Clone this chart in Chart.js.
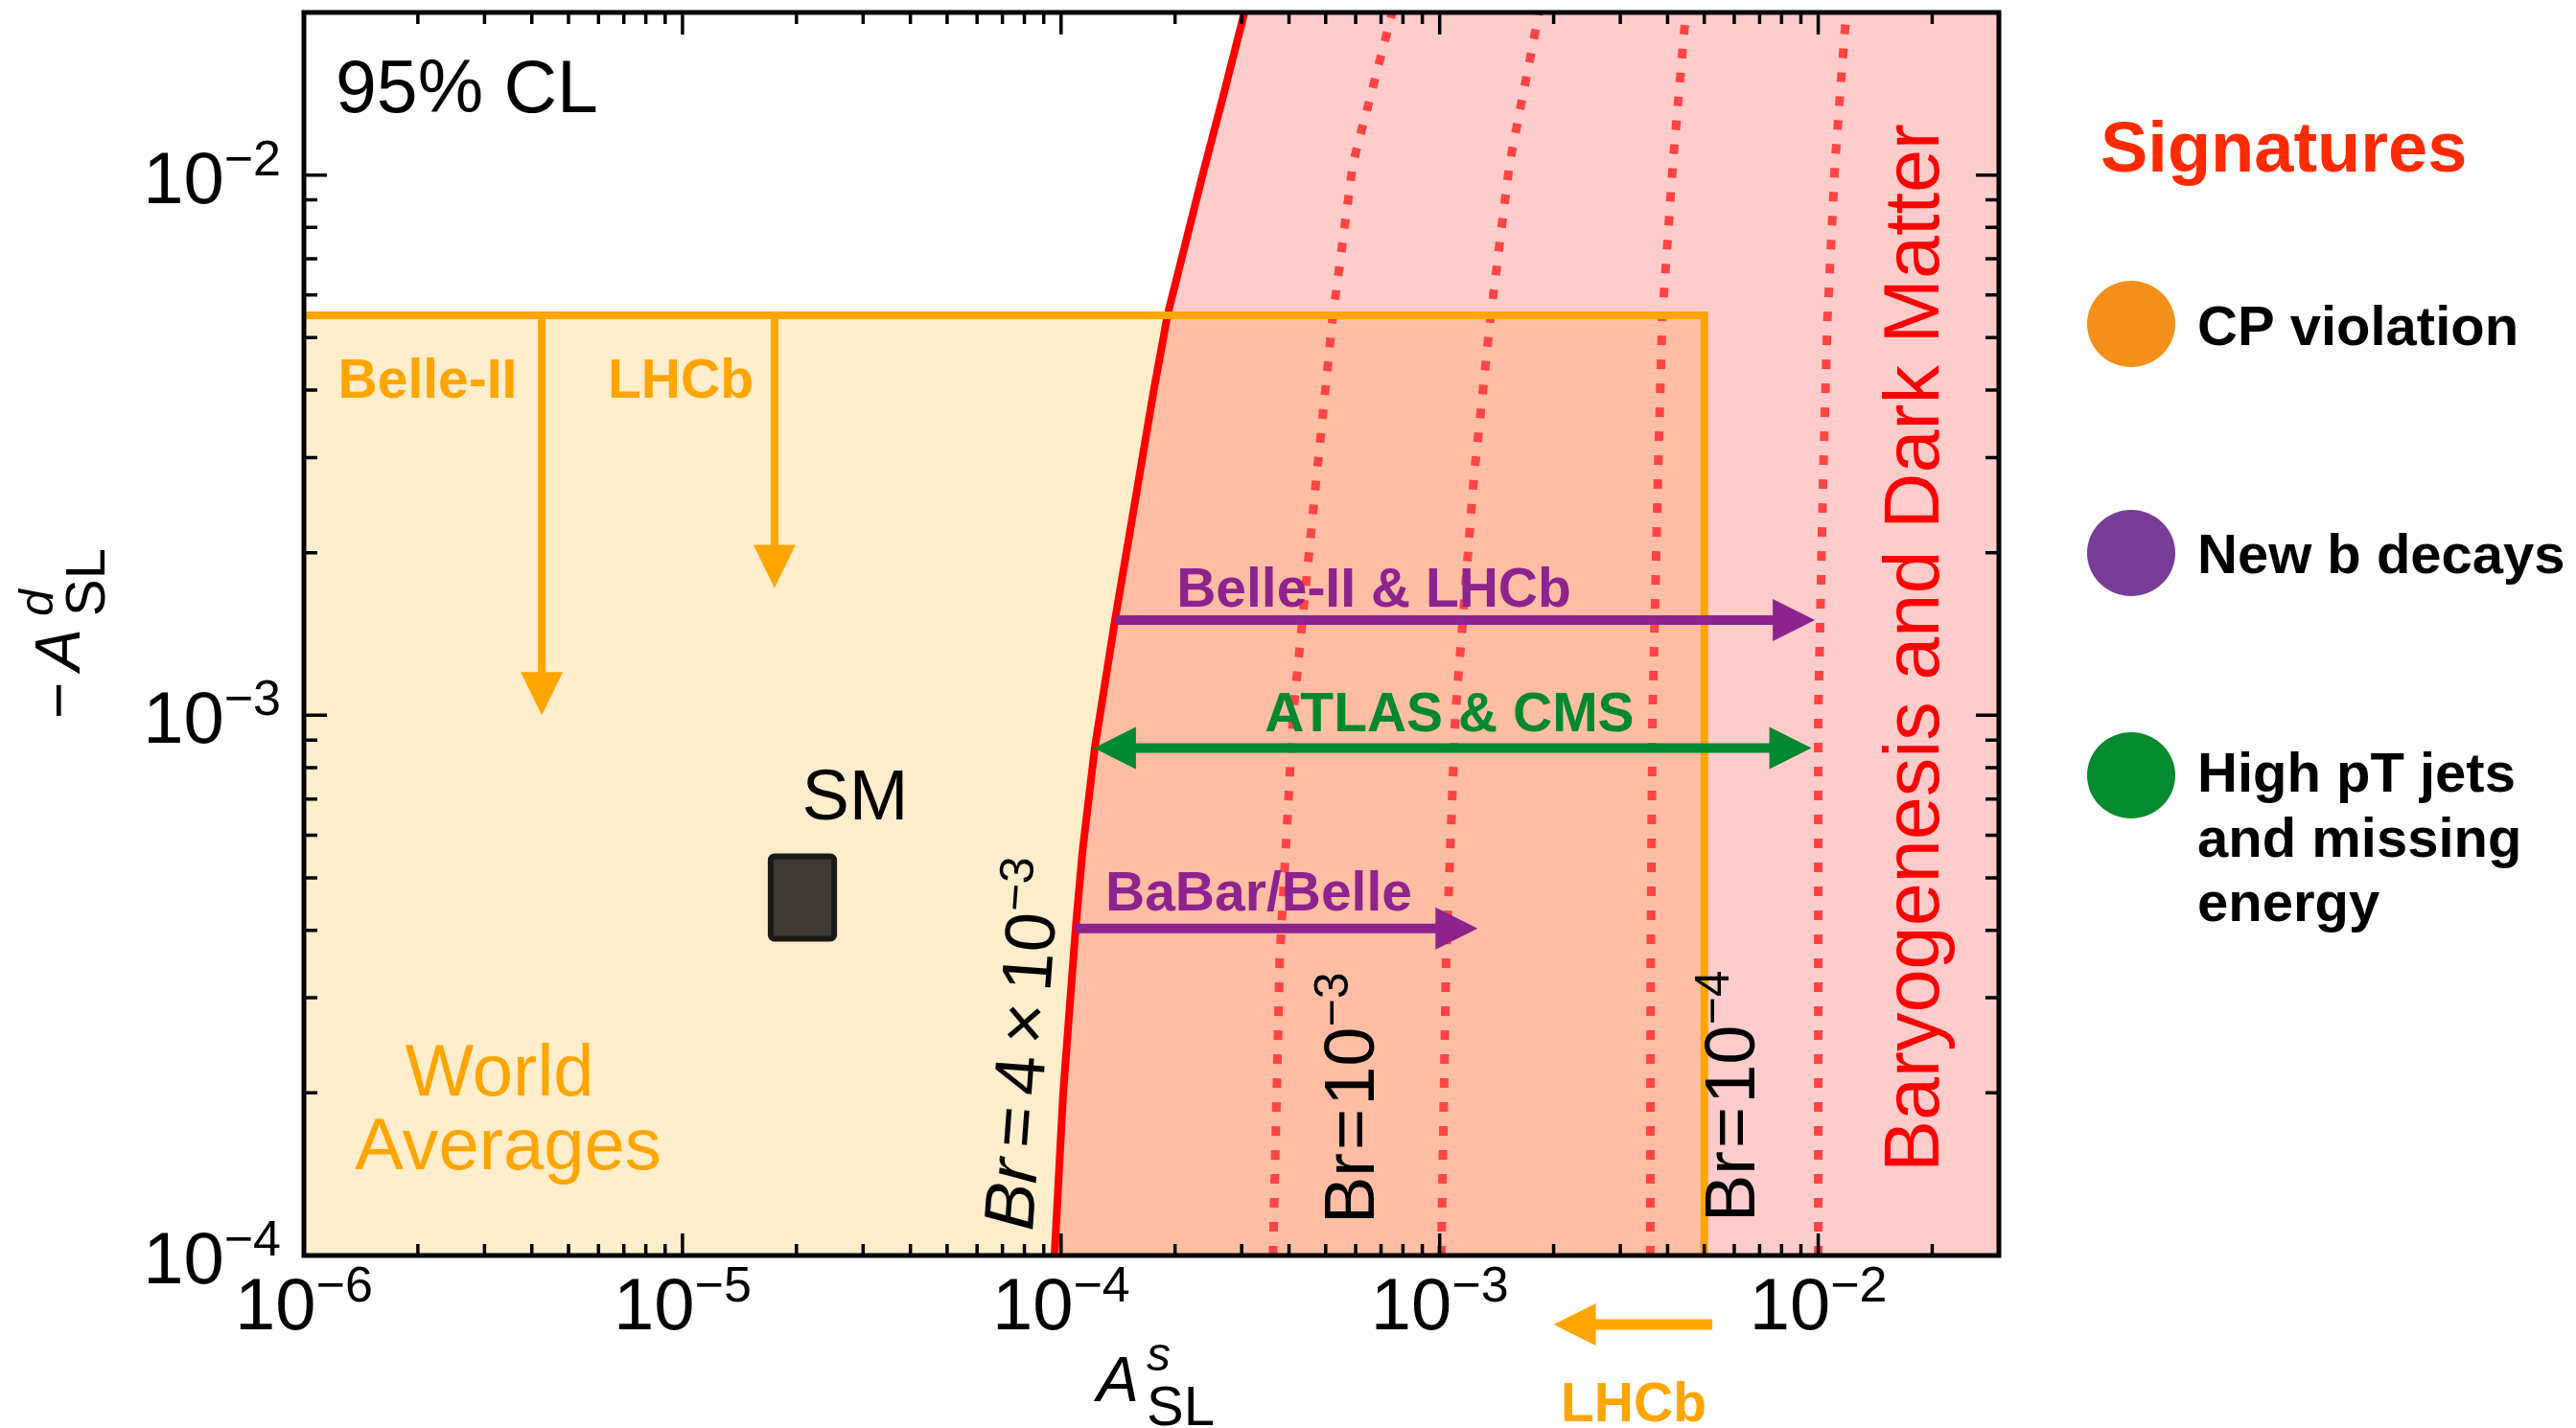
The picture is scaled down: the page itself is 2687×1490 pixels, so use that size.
<!DOCTYPE html>
<html>
<head>
<meta charset="utf-8">
<script src="https://cdn.jsdelivr.net/npm/chart.js"></script>
<style>
  html, body { margin: 0; padding: 0; background: #fff; overflow: hidden; }
</style>
</head>
<body>
<canvas id="chart" width="2687" height="1490"></canvas>
<script>
// axis ranges and tick labels
const xRange = [1e-6, 3e-2];
const yRange = [1e-4, 2e-2];
const xMajor = [1e-6, 1e-5, 1e-4, 1e-3, 1e-2];
const xExp = ['−6', '−5', '−4', '−3', '−2'];
const yMajor = [1e-4, 1e-3, 1e-2];
const yExp = ['−4', '−3', '−2'];

const limitX = [9.61e-5, 1.013e-4, 1.093e-4, 1.138e-4, 1.228e-4, 1.388e-4, 1.605e-4, 1.752e-4, 1.913e-4, 2.373e-4, 2.683e-4, 3.05e-4];
const limitY = [1e-4, 2e-4, 4.04e-4, 5.56e-4, 8.72e-4, 1.5e-3, 2.74e-3, 3.95e-3, 5.53e-3, 1.01e-2, 1.403e-2, 2e-2];

// dotted Br contours, sampled at the same heights
const contourY = [1e-4, 3.54e-4, 1e-3, 2.73e-3, 5.4e-3, 1.05e-2, 2e-2];
const contourA = [3.63e-4, 3.78e-4, 4.1e-4, 4.72e-4, 5.21e-4, 5.9e-4, 7.5e-4];
const contourB = [1.01e-3, 1.04e-3, 1.1e-3, 1.23e-3, 1.36e-3, 1.53e-3, 1.83e-3];
const contourC = [3.6e-3, 3.61e-3, 3.65e-3, 3.77e-3, 3.87e-3, 4.13e-3, 4.47e-3];
const contourD = [1.0e-2, 1.0e-2, 1.0e-2, 1.03e-2, 1.057e-2, 1.107e-2, 1.185e-2];

// world averages box (upper limits)
const worldAvgX = 5e-3;
const worldAvgY = 5.5e-3;

// projected reaches: [x, y from, y tip] / [y, x from, x tip]
const belle2Proj = [4.25e-6, 5.5e-3, 1e-3];
const lhcbProj = [1.75e-5, 5.5e-3, 1.72e-3];
const lhcbSProj = [7.45e-5, 5.25e-3, 2.0e-3];
const belleLhcbReach = [1.5e-3, 1.39e-4, 9.8e-3];
const atlasCmsReach = [8.7e-4, 1.22e-4, 9.6e-3];
const babarReach = [4.03e-4, 1.09e-4, 1.26e-3];

// SM expectation box
const smX = [1.68e-5, 2.56e-5];
const smY = [3.81e-4, 5.55e-4];

const FONT = '"Liberation Sans", Arial, sans-serif';
const pts = (xs, ys) => xs.map((v, i) => ({x: v, y: ys[i]}));

const boxPoly = [
  {x: xRange[0] / 10, y: yRange[0] / 10}, {x: xRange[0] / 10, y: worldAvgY},
  {x: worldAvgX, y: worldAvgY}, {x: worldAvgX, y: yRange[0] / 10}
];
const redPoly = pts(limitX, limitY).concat([
  {x: limitX[limitX.length - 1], y: yRange[1] * 10},
  {x: xRange[1] * 10, y: yRange[1] * 10}, {x: xRange[1] * 10, y: yRange[0] / 10}
]);

function logTicks(lo, hi) {
  const out = [];
  for (let e = Math.floor(Math.log10(lo)); e <= Math.ceil(Math.log10(hi)); e++) {
    for (let m = 1; m <= 9; m++) {
      const v = m * Math.pow(10, e);
      if (v >= lo * 0.999 && v <= hi * 1.001) out.push(v);
    }
  }
  return out;
}

function rich(ctx, parts, x, y) {
  let cx = x;
  for (const p of parts) {
    cx += p.gap || 0;
    ctx.font = p.f;
    ctx.fillText(p.t, cx, y + (p.dy || 0));
    cx += ctx.measureText(p.t).width;
  }
  return cx - x;
}
function richWidth(ctx, parts) {
  let w = 0;
  for (const p of parts) { ctx.font = p.f; w += (p.gap || 0) + ctx.measureText(p.t).width; }
  return w;
}

function arrow(ctx, x1, y1, x2, y2, color, lw, hl, hw, both) {
  const an = Math.atan2(y2 - y1, x2 - x1);
  const c = Math.cos(an), s = Math.sin(an);
  ctx.strokeStyle = color;
  ctx.fillStyle = color;
  ctx.lineWidth = lw;
  ctx.lineCap = 'butt';
  ctx.beginPath();
  ctx.moveTo(both ? x1 + (hl - 2) * c : x1, both ? y1 + (hl - 2) * s : y1);
  ctx.lineTo(x2 - (hl - 2) * c, y2 - (hl - 2) * s);
  ctx.stroke();
  const head = (tx, ty, cc, ss) => {
    ctx.beginPath();
    ctx.moveTo(tx, ty);
    ctx.lineTo(tx - hl * cc + hw * ss, ty - hl * ss - hw * cc);
    ctx.lineTo(tx - hl * cc - hw * ss, ty - hl * ss + hw * cc);
    ctx.closePath();
    ctx.fill();
  };
  head(x2, y2, c, s);
  if (both) head(x1, y1, -c, -s);
}

const decor = {
  id: 'decor',
  afterDatasetsDraw(chart) {
    const {ctx, chartArea: a, scales: {x, y}} = chart;
    const px = v => x.getPixelForValue(v);
    const py = v => y.getPixelForValue(v);
    ctx.save();
    ctx.textBaseline = 'alphabetic';

    // orange projections
    arrow(ctx, px(belle2Proj[0]), py(belle2Proj[1]), px(belle2Proj[0]), py(belle2Proj[2]), '#ffa500', 8, 45, 22);
    arrow(ctx, px(lhcbProj[0]), py(lhcbProj[1]), px(lhcbProj[0]), py(lhcbProj[2]), '#ffa500', 8, 45, 22);
    arrow(ctx, px(lhcbSProj[1]), py(lhcbSProj[0]), px(lhcbSProj[2]), py(lhcbSProj[0]), '#ffa500', 11, 44, 22);

    // reach arrows
    arrow(ctx, px(belleLhcbReach[1]), py(belleLhcbReach[0]), px(belleLhcbReach[2]), py(belleLhcbReach[0]), '#8e228f', 10, 44, 22);
    arrow(ctx, px(atlasCmsReach[1]), py(atlasCmsReach[0]), px(atlasCmsReach[2]), py(atlasCmsReach[0]), '#00882e', 10, 44, 22, true);
    arrow(ctx, px(babarReach[1]), py(babarReach[0]), px(babarReach[2]), py(babarReach[0]), '#8e228f', 10, 44, 22);

    // SM box
    const sx0 = px(smX[0]), sx1 = px(smX[1]), sy0 = py(smY[1]), sy1 = py(smY[0]);
    ctx.fillStyle = '#3e3933';
    ctx.strokeStyle = '#1b1916';
    ctx.lineWidth = 6;
    ctx.beginPath();
    ctx.roundRect(sx0 + 3, sy0 + 3, sx1 - sx0 - 6, sy1 - sy0 - 6, 4);
    ctx.fill();
    ctx.stroke();

    // labels inside the plot
    ctx.fillStyle = '#000';
    ctx.textAlign = 'left';
    ctx.font = '77px ' + FONT;
    ctx.fillText('95% CL', a.left + 33, a.top + 104);
    ctx.textAlign = 'center';
    ctx.font = '74px ' + FONT;
    ctx.fillText('SM', 892, 855);

    ctx.fillStyle = '#ffa500';
    ctx.font = 'bold 57px ' + FONT;
    ctx.fillText('Belle-II', 446, 415);
    ctx.fillText('LHCb', 710, 415);
    ctx.fillText('LHCb', 1704, 1483);
    ctx.font = '76px ' + FONT;
    ctx.fillText('World', 521, 1143);
    ctx.fillText('Averages', 530, 1220);

    ctx.font = 'bold 57px ' + FONT;
    ctx.fillStyle = '#8e228f';
    ctx.fillText('Belle-II & LHCb', 1433, 633);
    ctx.textAlign = 'left';
    ctx.fillText('BaBar/Belle', 1153, 950);
    ctx.textAlign = 'center';
    ctx.fillStyle = '#00882e';
    ctx.fillText('ATLAS & CMS', 1512, 763);

    // rotated Br labels
    ctx.textAlign = 'left';
    ctx.fillStyle = '#000';
    const n74 = '74px ' + FONT, s50 = '50px ' + FONT;
    ctx.save();
    ctx.translate(1077, 1285);
    ctx.rotate(-85.8 * Math.PI / 180);
    rich(ctx, [
      {t: 'Br', f: 'italic 74px ' + FONT}, {t: '=', f: n74, gap: 12}, {t: '4', f: n74, gap: 12},
      {t: '×', f: n74, gap: 12}, {t: '10', f: n74, gap: 12}, {t: '−3', f: s50, dy: -27}
    ], 0, 0);
    ctx.restore();
    [[1433, 1277, '−3'], [1830, 1275, '−4']].forEach(([lx, ly, e]) => {
      ctx.save();
      ctx.translate(lx, ly);
      ctx.rotate(-Math.PI / 2);
      rich(ctx, [
        {t: 'Br', f: n74}, {t: '=', f: n74, gap: 3}, {t: '10', f: n74, gap: 3}, {t: e, f: s50, dy: -27}
      ], 0, 0);
      ctx.restore();
    });
    ctx.save();
    ctx.translate(2022, 1223);
    ctx.rotate(-Math.PI / 2);
    ctx.fillStyle = '#ff0000';
    ctx.font = '81px ' + FONT;
    ctx.fillText('Baryogenesis and Dark Matter', 0, 0);
    ctx.restore();

    // frame and inward ticks
    ctx.strokeStyle = '#000';
    ctx.lineWidth = 3.5;
    ctx.beginPath();
    logTicks(xRange[0], xRange[1]).forEach(v => {
      const p = px(v);
      const L = Math.abs(Math.log10(v) - Math.round(Math.log10(v))) < 1e-6 ? 23 : 12;
      ctx.moveTo(p, a.bottom); ctx.lineTo(p, a.bottom - L);
      ctx.moveTo(p, a.top); ctx.lineTo(p, a.top + L);
    });
    logTicks(yRange[0], yRange[1]).forEach(v => {
      const p = py(v);
      const L = Math.abs(Math.log10(v) - Math.round(Math.log10(v))) < 1e-6 ? 24 : 14;
      ctx.moveTo(a.left, p); ctx.lineTo(a.left + L, p);
      ctx.moveTo(a.right, p); ctx.lineTo(a.right - L, p);
    });
    ctx.stroke();
    ctx.lineWidth = 5;
    ctx.strokeRect(a.left, a.top, a.right - a.left, a.bottom - a.top);

    // tick labels
    ctx.fillStyle = '#000';
    const m76 = '76px ' + FONT, e52 = '52px ' + FONT;
    xMajor.forEach((v, i) => {
      const parts = [{t: '10', f: m76}, {t: xExp[i], f: e52, dy: -29}];
      rich(ctx, parts, px(v) - richWidth(ctx, parts) / 2, a.bottom + 77);
    });
    yMajor.forEach((v, i) => {
      const parts = [{t: '10', f: m76}, {t: yExp[i], f: e52, dy: -29}];
      rich(ctx, parts, a.left - 24 - richWidth(ctx, parts), py(v) + 29);
    });

    // axis titles
    ctx.font = 'italic 66px ' + FONT;
    ctx.fillText('A', 1144, 1462);
    ctx.font = 'italic 50px ' + FONT;
    ctx.fillText('s', 1196, 1430);
    ctx.font = '58px ' + FONT;
    ctx.fillText('SL', 1196, 1487);
    ctx.save();
    ctx.translate(83, 750);
    ctx.rotate(-Math.PI / 2);
    ctx.font = '66px ' + FONT;
    ctx.fillText('−', 0, 0);
    ctx.font = 'italic 66px ' + FONT;
    ctx.fillText('A', 50, 0);
    ctx.font = 'italic 50px ' + FONT;
    ctx.fillText('d', 107, -28);
    ctx.font = '58px ' + FONT;
    ctx.fillText('SL', 107, 26);
    ctx.restore();

    // signatures key
    ctx.fillStyle = '#ff2a00';
    ctx.font = 'bold 74px ' + FONT;
    ctx.fillText('Signatures', 2191, 179);
    [['#f39019', 338], ['#773d99', 577], ['#058a30', 809]].forEach(([c, cy]) => {
      ctx.fillStyle = c;
      ctx.beginPath();
      ctx.ellipse(2223, cy, 46, 45, 0, 0, Math.PI * 2);
      ctx.fill();
    });
    ctx.fillStyle = '#000';
    ctx.font = 'bold 58px ' + FONT;
    ctx.fillText('CP violation', 2292, 360);
    ctx.fillText('New b decays', 2292, 598);
    ctx.fillText('High pT jets', 2292, 826);
    ctx.fillText('and missing', 2292, 894);
    ctx.fillText('energy', 2292, 961);
    ctx.restore();
  }
};

const contour = (xs, order) => ({
  data: pts(xs, contourY), borderColor: '#ff4444', borderWidth: 9, borderDash: [10, 15],
  pointRadius: 0, fill: false, order: order
});

new Chart(document.getElementById('chart'), {
  type: 'line',
  data: {
    datasets: [
      {data: boxPoly, fill: 'shape', backgroundColor: 'rgba(255,165,0,0.2)', borderWidth: 0, pointRadius: 0, order: 20},
      {data: redPoly, fill: 'shape', backgroundColor: 'rgba(255,0,0,0.2)', borderWidth: 0, pointRadius: 0, order: 19},
      contour(contourA, 12), contour(contourB, 11), contour(contourC, 10), contour(contourD, 9),
      {data: pts(limitX, limitY), borderColor: '#ff0000', borderWidth: 8, borderJoinStyle: 'round', pointRadius: 0, fill: false, order: 8},
      {data: [{x: xRange[0] / 10, y: worldAvgY}, {x: worldAvgX, y: worldAvgY}, {x: worldAvgX, y: yRange[0] / 10}],
       borderColor: '#ffa500', borderWidth: 8, borderJoinStyle: 'miter', pointRadius: 0, fill: false, order: 5}
    ]
  },
  options: {
    responsive: false,
    devicePixelRatio: 1,
    animation: false,
    layout: {padding: {left: 317, right: 602, top: 13, bottom: 180}},
    plugins: {legend: {display: false}, tooltip: {enabled: false}},
    scales: {
      x: {type: 'logarithmic', min: xRange[0], max: xRange[1], display: false},
      y: {type: 'logarithmic', min: yRange[0], max: yRange[1], display: false}
    }
  },
  plugins: [decor]
});
</script>
</body>
</html>
